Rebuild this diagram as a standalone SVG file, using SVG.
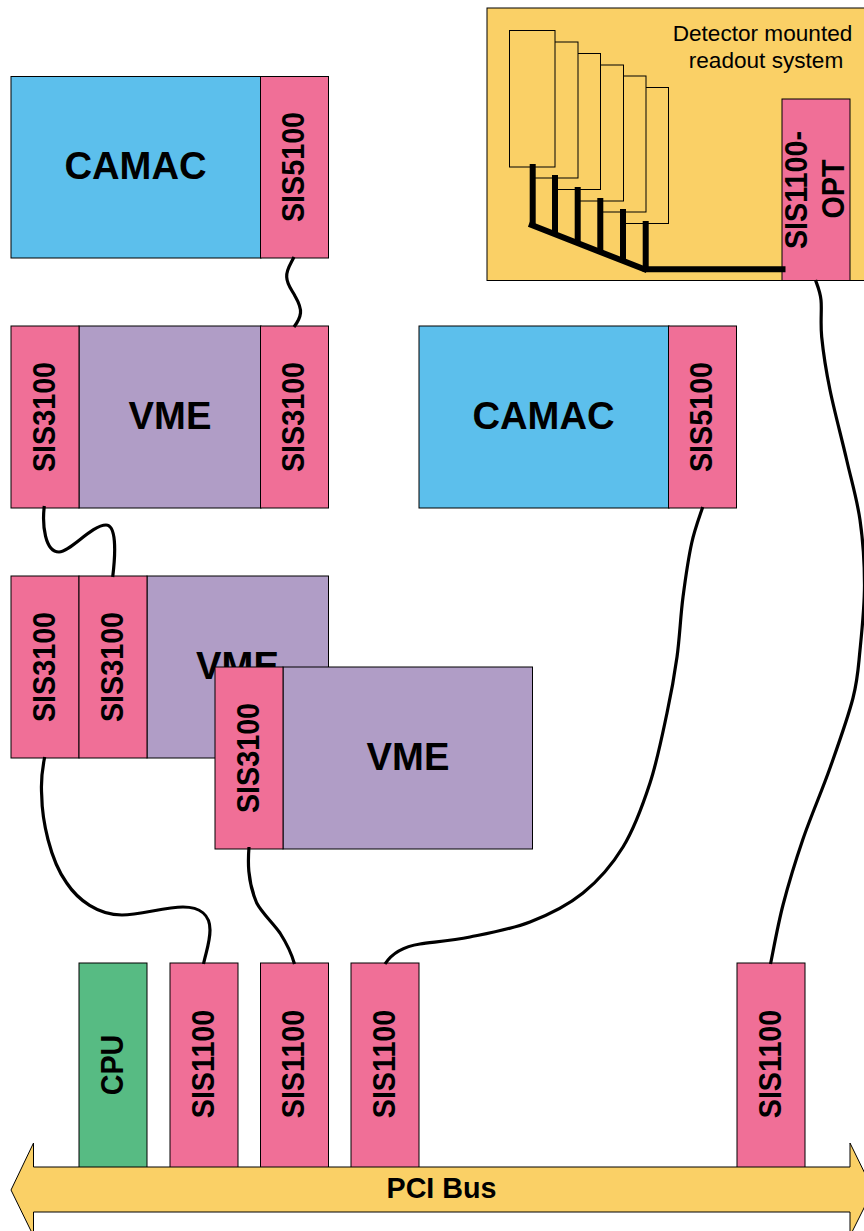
<svg xmlns="http://www.w3.org/2000/svg" width="864" height="1231" viewBox="0 0 864 1231">
<style>
rect,polygon{stroke:#000;stroke-width:1}
.p{fill:#f06f97}.b{fill:#5cbfec}.v{fill:#b09dc6}.y{fill:#fad066}.g{fill:#57bb83}.o{fill:none}
text{font-family:"Liberation Sans",Arial,sans-serif;text-anchor:middle;fill:#000}
.l{font-weight:700;font-size:38.200px}.s{font-weight:700;font-size:28.700px}.r{font-size:22.600px}
.w{fill:none;stroke:#000;stroke-width:3.200;stroke-linecap:butt}
.t{fill:none;stroke:#000;stroke-width:6;stroke-linecap:butt}
</style>
<g id="readout">
<rect class="y" x="487" y="8" width="385" height="272.500"/>
<rect class="y" x="623" y="87.500" width="45.500" height="136"/>
<rect class="y" x="600.500" y="76" width="45.500" height="136"/>
<rect class="y" x="578" y="65" width="45.500" height="136"/>
<rect class="y" x="555" y="53.500" width="45.500" height="136"/>
<rect class="y" x="532.500" y="42" width="45.500" height="136"/>
<rect class="y" x="509.500" y="30.500" width="45.500" height="136.500"/>
<text class="r" x="762.500" y="40.500">Detector mounted</text>
<text class="r" x="766" y="67.500">readout system</text>
</g>
<g id="sis1100-opt">
<rect class="p" x="782" y="99" width="68" height="181.500"/>
<text class="s" transform="translate(807,190) rotate(-90) scale(1,1.070)">SIS1100-</text>
<text class="s" transform="translate(843.500,189) rotate(-90) scale(1,1.070)">OPT</text>
</g>
<g id="camac-1"><rect class="b" x="11" y="76.500" width="250" height="181.500"/><text class="l" x="135.500" y="179">CAMAC</text></g>
<g id="sis5100-1"><rect class="p" x="260.500" y="76.500" width="68" height="181.500"/><text class="s" transform="translate(303.700,167) rotate(-90) scale(1,1.070)">SIS5100</text></g>
<g id="vme-1"><rect class="v" x="79" y="326" width="182" height="182"/><text class="l" x="170" y="429">VME</text></g>
<g id="sis3100-1"><rect class="p" x="11" y="326" width="68" height="182"/><text class="s" transform="translate(54.700,417) rotate(-90) scale(1,1.070)">SIS3100</text></g>
<g id="sis3100-2"><rect class="p" x="260.500" y="326" width="68" height="182"/><text class="s" transform="translate(303.700,417) rotate(-90) scale(1,1.070)">SIS3100</text></g>
<g id="camac-2"><rect class="b" x="419" y="326" width="250" height="182"/><text class="l" x="543.500" y="429">CAMAC</text></g>
<g id="sis5100-2"><rect class="p" x="668.500" y="326" width="68" height="182"/><text class="s" transform="translate(712,417) rotate(-90) scale(1,1.070)">SIS5100</text></g>
<g id="vme-2"><rect class="v" x="147" y="576" width="181.500" height="182"/><text class="l" x="237.500" y="679">VME</text></g>
<g id="sis3100-3"><rect class="p" x="11" y="576" width="68" height="182"/><text class="s" transform="translate(54.700,667) rotate(-90) scale(1,1.070)">SIS3100</text></g>
<g id="sis3100-4"><rect class="p" x="79" y="576" width="68" height="182"/><text class="s" transform="translate(122.700,667) rotate(-90) scale(1,1.070)">SIS3100</text></g>
<g id="vme-3"><rect class="v" x="283" y="667" width="249.500" height="182"/><text class="l" x="408" y="770">VME</text></g>
<g id="sis3100-5"><rect class="p" x="215" y="667" width="68" height="182"/><text class="s" transform="translate(258.700,758) rotate(-90) scale(1,1.070)">SIS3100</text></g>
<g id="cpu"><rect class="g" x="79" y="963" width="68" height="205"/><text class="s" transform="translate(122.700,1065) rotate(-90) scale(1,1.070)">CPU</text></g>
<g id="sis1100-1"><rect class="p" x="170" y="963" width="68" height="205"/><text class="s" transform="translate(213.700,1064) rotate(-90) scale(1,1.070)">SIS1100</text></g>
<g id="sis1100-2"><rect class="p" x="260.500" y="963" width="68" height="205"/><text class="s" transform="translate(303.700,1064) rotate(-90) scale(1,1.070)">SIS1100</text></g>
<g id="sis1100-3"><rect class="p" x="351" y="963" width="68" height="205"/><text class="s" transform="translate(394.700,1064) rotate(-90) scale(1,1.070)">SIS1100</text></g>
<g id="sis1100-4"><rect class="p" x="737" y="963" width="68" height="205"/><text class="s" transform="translate(780.700,1064) rotate(-90) scale(1,1.070)">SIS1100</text></g>
<g id="pci-bus">
<polygon class="y" points="11,1190 33.500,1143 33.500,1167 850,1167 850,1143 873,1190 850,1236 850,1212 33.500,1212 33.500,1236"/>
<text class="s" x="441.500" y="1198">PCI Bus</text>
</g>
<g id="connectors">
<path class="w" d="M294,257C290,265 286,270 286.700,277C287,285 292,290 295,296C299,303 301,308 300.500,313C300,318 297,323 294,327"/>
<path class="w" d="M44.300,506C42,525 45,552 59,552C70,552 92,525 106,525C116,525 116,550 112.700,577"/>
<path class="w" d="M44.700,757C41,775 41,785 41.700,795C42,820 50,860 66.700,883C78,900 98,915 122,915C140,915 165,907 183,907C200,907 210,915 210,930C210,942 206,952 203.500,964"/>
<path class="w" d="M249,847C248,860 247,880 256.700,903C262,913 272,922 280,933C287,944 292,955 294.500,964"/>
<path class="w" d="M702.700,507C700.900,513 695,528 691.700,543C688.400,558 685.500,578 683,597C680.500,616 679.700,637.700 677,657C674.300,676.300 671.500,692 667,713C662.500,734 657.300,760.700 650,783C642.700,805.300 634.200,828.700 623,847C611.800,865.300 598.500,880.500 583,893C567.500,905.500 548.800,914.700 530,922C511.200,929.300 488.300,933.300 470,937C451.700,940.700 431.700,942.200 420,944C408.300,945.800 394,950 385,964"/>
<path class="w" d="M815.500,280C816.400,283.300 820,290.500 821,300C822,309.500 820.200,322 821.700,337C823.200,352 825.800,369.500 830,390C834.200,410.500 841.700,438.300 846.700,460C851.700,481.700 857,499.200 860,520C863,540.800 864.500,563.300 864.500,585C864.500,606.700 861.900,631.200 860,650C858.100,668.800 858,678.300 853,698C848,717.700 838.300,744.500 830,768C821.700,791.500 810.800,816.200 803,839C795.200,861.800 788.400,884.200 783,905C777.600,925.800 772.600,954.200 770.500,964"/>
<path class="t" d="M532.700,164V226M555,175V236M577.700,187V245M600.300,198V254M623,209V263M645.700,221V272"/>
<path class="t" d="M529,224L647,270.300M645,269.300H785.500"/>
</g>
</svg>
